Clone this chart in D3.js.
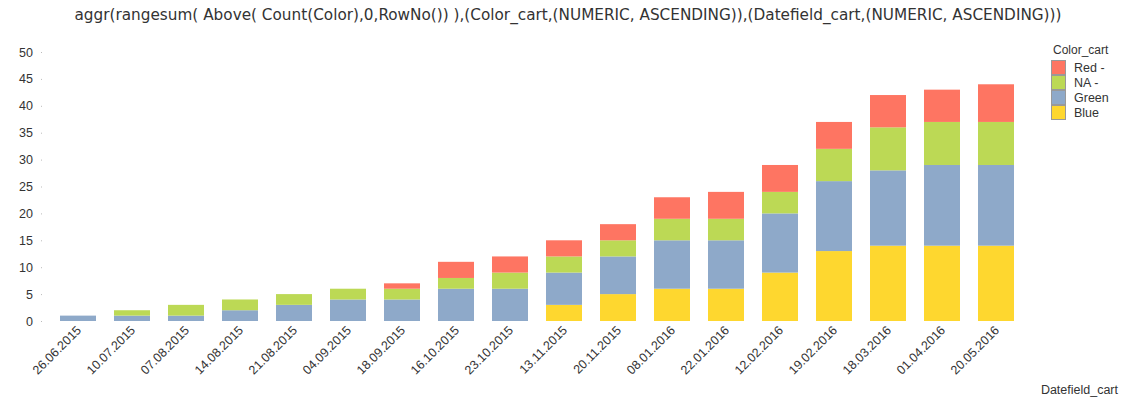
<!DOCTYPE html>
<html><head><meta charset="utf-8">
<script src="https://cdn.jsdelivr.net/npm/d3@7"></script>
<style>body{margin:0;background:#fff}svg{display:block}text{font-family:"Liberation Sans",Arial,sans-serif}</style>
</head><body>
<svg id="c" width="1121" height="398"></svg>
<script>
const categories = ["26.06.2015","10.07.2015","07.08.2015","14.08.2015","21.08.2015","04.09.2015","18.09.2015","16.10.2015","23.10.2015","13.11.2015","20.11.2015","08.01.2016","22.01.2016","12.02.2016","19.02.2016","18.03.2016","01.04.2016","20.05.2016"];
const blue  = [0,0,0,0,0,0,0,0,0,3,5,6,6,9,13,14,14,14];
const green = [1,1,1,2,3,4,4,6,6,6,7,9,9,11,13,14,15,15];
const na    = [0,1,2,2,2,2,2,2,3,3,3,4,4,4,6,8,8,8];
const red   = [0,0,0,0,0,0,1,3,3,3,3,4,5,5,5,6,6,7];
const seriesNames = ["Blue","Green","NA -","Red -"];
const colors = ["#FED72F","#8EA9C9","#BCD955","#FE7562"];
const yTicks = [0,5,10,15,20,25,30,35,40,45,50];
const titleText = "aggr(rangesum( Above(  Count(Color),0,RowNo()) ),(Color_cart,(NUMERIC, ASCENDING)),(Datefield_cart,(NUMERIC, ASCENDING)))";

const svg = d3.select("#c");
const x = d3.scaleBand().domain(categories).range([51,1023]).paddingInner(1/3).paddingOuter(1/6);
const y = d3.scaleLinear().domain([0,50]).range([321,52]);

const rows = categories.map((c,i)=>({cat:c, Blue:blue[i], Green:green[i], "NA -":na[i], "Red -":red[i]}));
const stack = d3.stack().keys(seriesNames)(rows);

svg.append("text").attr("x",568).attr("y",20).attr("text-anchor","middle")
  .style("font-family","'DejaVu Sans Condensed','DejaVu Sans',sans-serif")
  .attr("font-size",15).attr("fill","#333").attr("textLength",987).attr("lengthAdjust","spacingAndGlyphs")
  .text(titleText);

stack.forEach((s,si)=>{
  svg.append("g").attr("fill",colors[si]).selectAll("rect").data(s.filter(d=>d[1]-d[0]>0)).join("rect")
    .attr("x",d=>x(d.data.cat)).attr("width",x.bandwidth())
    .attr("y",d=>y(d[1])).attr("height",d=>y(d[0])-y(d[1]));
});

// y axis
const ya = svg.append("g").attr("transform","translate(42,0)")
  .call(d3.axisLeft(y).tickValues(yTicks).tickSize(1).tickPadding(8));
ya.select(".domain").remove();
ya.selectAll(".tick line").attr("stroke","#bbb");
ya.selectAll(".tick text").attr("font-size",12.5).attr("fill","#333").style("font-family","'Liberation Sans',Arial,sans-serif");

// x axis
const xa = svg.append("g").attr("transform","translate(0,324)")
  .call(d3.axisBottom(x).tickSize(0).tickPadding(0));
xa.select(".domain").remove();
xa.selectAll(".tick line").remove();
xa.selectAll(".tick text").attr("font-size",12.5).attr("fill","#333").style("font-family","'Liberation Sans',Arial,sans-serif")
  .attr("text-anchor","end").attr("dy",0).attr("y",0).attr("transform","translate(4,7) rotate(-45)");

svg.append("text").attr("x",1118).attr("y",394).attr("text-anchor","end").attr("font-size",12.5)
  .attr("fill","#333").text("Datefield_cart");

// legend
const lg = svg.append("g");
lg.append("text").attr("x",1053).attr("y",54).attr("font-size",12).attr("fill","#333").text("Color_cart");
const legendOrder = seriesNames.map((n,i)=>({n,c:colors[i]})).reverse();
legendOrder.forEach((d,i)=>{
  lg.append("rect").attr("x",1051.5).attr("y",60.5+i*15).attr("width",14).attr("height",14)
    .attr("fill",d.c).attr("stroke","#999").attr("stroke-width",1);
  lg.append("text").attr("x",1074).attr("y",72+i*15).attr("font-size",12.5).attr("fill","#333").text(d.n);
});
</script>
</body></html>
